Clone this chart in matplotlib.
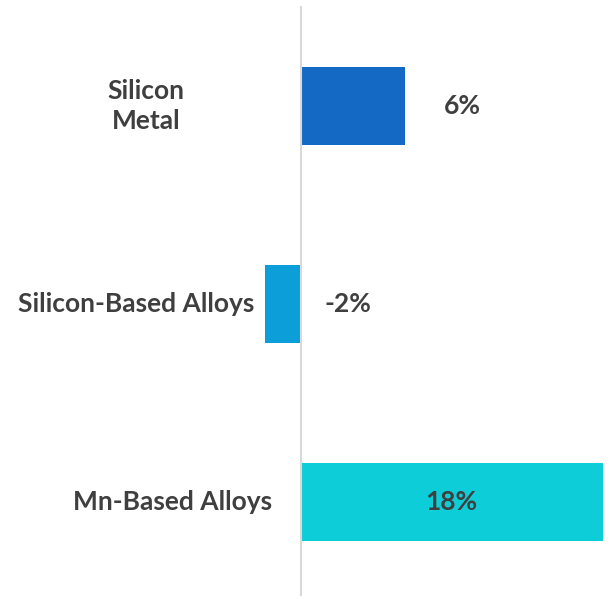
import matplotlib.pyplot as plt

# data (bar lengths as drawn, labels rounded)
categories = ['Silicon\nMetal', 'Silicon-Based Alloys', 'Mn-Based Alloys']
growth_pct = [6.2, -2.1, 18.0]
bar_colors = ['#1469C4', '#0B9ED9', '#0DCED8']

plt.rcParams['font.family'] = ['Lato', 'DejaVu Sans']
text_color = '#3F3F3F'
fs = 19

fig = plt.figure(figsize=(6.10, 5.99), dpi=100)
ax = fig.add_axes([0, 0, 1, 1])

# pixel scale: zero at x=300.5 px, 16.8 px per percent; rows 198 px apart
px_per_pct = 16.8
ax.set_xlim(-300.5 / px_per_pct, (610 - 300.5) / px_per_pct)
ax.set_ylim(2 + 97 / 198, -106 / 198)

ypos = range(len(categories))
ax.barh(ypos, growth_pct, height=78 / 198, color=bar_colors, zorder=2)

# category axis line
ax.plot([0, 0], [-106 / 198 + 7 / 198, 2 + 93 / 198], color='#D9D9D9', lw=1.5, zorder=3)

# category labels (placed like the excel layout)
label_x = [-6.9, -2.75, -1.7]
for y, name, lx in zip(ypos, categories, label_x):
    ax.text(lx, y, name, ha='right', va='center', multialignment='center',
            fontsize=fs, fontweight='bold', color=text_color, linespacing=1.32)

# value labels
for y, v in zip(ypos, growth_pct):
    lab = f'{v:.0f}%'
    if v == max(growth_pct):
        ax.text(v / 2, y, lab, ha='center', va='center',
                fontsize=fs, fontweight='bold', color=text_color)
    elif v > 0:
        ax.text(v + 2.35, y, lab, ha='left', va='center',
                fontsize=fs, fontweight='bold', color=text_color)
    else:
        ax.text(1.45, y, lab, ha='left', va='center',
                fontsize=fs, fontweight='bold', color=text_color)

ax.axis('off')
fig.savefig('out.png', dpi=100)
